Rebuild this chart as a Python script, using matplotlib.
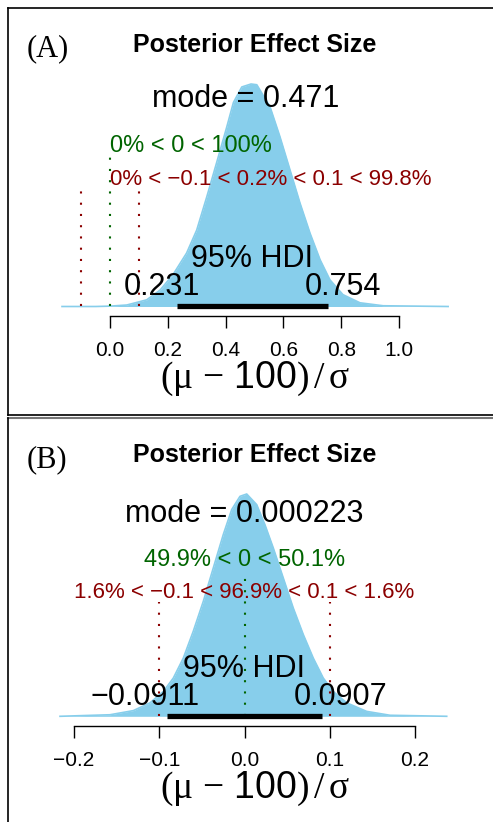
import matplotlib
matplotlib.use("Agg")
import matplotlib.pyplot as plt
from matplotlib.lines import Line2D
from matplotlib.transforms import offset_copy


# panel A: posterior of effect size
a_x = [-0.166, -0.05, 0.0, 0.058, 0.127, 0.173, 0.218, 0.265, 0.300, 0.335,
       0.369, 0.404, 0.427, 0.456, 0.488, 0.508, 0.554, 0.588, 0.623, 0.657,
       0.692, 0.727, 0.761, 0.806, 0.865, 0.945, 1.17]
a_dens = [0.0, 0.0, 0.005, 0.02, 0.09, 0.22, 0.43, 0.72, 1.03, 1.48,
          1.94, 2.42, 2.75, 2.96, 3.00, 2.99, 2.69, 2.29, 1.84, 1.40,
          0.99, 0.63, 0.36, 0.16, 0.05, 0.01, 0.0]
a_mode = 0.471
a_hdi = [0.231, 0.754]
a_comp_pct = [0, 100]
a_rope_pct = [0, 0.2, 99.8]
a_ticks = [0.0, 0.2, 0.4, 0.6, 0.8, 1.0]
a_ticklabels = ["0.0", "0.2", "0.4", "0.6", "0.8", "1.0"]

# panel B
b_x = [-0.2164, -0.1578, -0.1304, -0.1109, -0.0952, -0.0835, -0.0718, -0.0601,
       -0.0483, -0.0366, -0.0249, -0.0150, -0.0053, 0.0026, 0.0143, 0.0240,
       0.0338, 0.0455, 0.0572, 0.0690, 0.0807, 0.0924, 0.1042, 0.1199,
       0.1433, 0.1707, 0.2372]
b_dens = [0.0, 0.06, 0.22, 0.52, 0.96, 1.48, 2.25, 3.29,
          4.45, 5.74, 7.03, 8.00, 8.51, 8.60, 8.19, 7.41,
          6.51, 5.35, 4.19, 3.16, 2.25, 1.48, 0.96, 0.52,
          0.19, 0.04, 0.0]
b_mode = 0.000223
b_hdi = [-0.0911, 0.0907]
b_comp_pct = [49.9, 50.1]
b_rope_pct = [1.6, 96.9, 1.6]
b_ticks = [-0.2, -0.1, 0.0, 0.1, 0.2]
b_ticklabels = ["\u22120.2", "\u22120.1", "0.0", "0.1", "0.2"]

comp_val = 0
rope = [-0.1, 0.1]

W, H = 493, 822
plt.rcParams["font.family"] = "Liberation Sans"
plt.rcParams["mathtext.fontset"] = "custom"
plt.rcParams["mathtext.rm"] = "Liberation Serif"
plt.rcParams["mathtext.it"] = "Liberation Serif:italic"
plt.rcParams["mathtext.sf"] = "Liberation Sans"

fig = plt.figure(figsize=(W / 100, H / 100), dpi=100)

SKY = "#87CEEB"
GREEN = "#006400"
RED = "#8B0000"


def fmt(v):
    return ("%.3g" % v).replace("-", "\u2212")


def fig_text(px, py, s, **kw):
    fig.text(px / W, 1 - py / H, s, **kw)


def text_adj(ax, x, y, s, adj, **kw):
    # R style fractional horizontal adjustment
    t = ax.text(x, y, s, ha="left", va="baseline", **kw)
    w = t.get_window_extent(renderer=fig.canvas.get_renderer()).width
    t.set_transform(offset_copy(ax.transData, fig=fig, x=-adj * w, units="dots"))
    return t


def plot_panel(x, dens, mode, hdi, comp_pct, rope_pct, ticks, ticklabels,
               zero_px, px_unit, base_px, peak_px, hts, tag, top_px):
    left_px, right_px = 50, 460
    ax = fig.add_axes([left_px / W, 1 - base_px / H, (right_px - left_px) / W,
                       (base_px - top_px) / H])
    k = max(dens) / peak_px   # density units per pixel
    ax.set_xlim((left_px - zero_px) / px_unit, (right_px - zero_px) / px_unit)
    ax.set_ylim(0, (base_px - top_px) * k)

    ax.fill_between(x, 0, dens, color=SKY, lw=0)
    ax.plot(x, dens, color=SKY, lw=1.2, clip_on=False)

    ax.plot([comp_val, comp_val], [0, hts["comp_line"] * k], color=GREEN,
            lw=1.5, linestyle=(0, (1, 4.4)), clip_on=False)
    for r in rope:
        ax.plot([r, r], [0, hts["rope_line"] * k], color=RED,
                lw=1.5, linestyle=(0, (1, 4.4)), clip_on=False)
    ax.plot(hdi, [0, 0], color="black", lw=3.8, solid_capstyle="butt",
            clip_on=False)

    ax.text(mode, hts["mode"] * k, "mode = " + fmt(mode), ha="center",
            va="baseline", fontsize=22)
    text_adj(ax, comp_val, hts["comp"] * k,
             "%s%% < %s < %s%%" % (fmt(comp_pct[0]), fmt(comp_val), fmt(comp_pct[1])),
             comp_pct[0] / 100, fontsize=17, color=GREEN)
    text_adj(ax, sum(rope) / 2, hts["rope"] * k,
             "%s%% < %s < %s%% < %s < %s%%" % (fmt(rope_pct[0]), fmt(rope[0]),
                                              fmt(rope_pct[1]), fmt(rope[1]),
                                              fmt(rope_pct[2])),
             (rope_pct[0] + rope_pct[1] / 2) / 100, fontsize=16, color=RED)
    ax.text(sum(hdi) / 2, hts["hdi"] * k, "95% HDI", ha="center",
            va="baseline", fontsize=22)
    text_adj(ax, hdi[0], hts["hdi_val"] * k, fmt(hdi[0]), 0.7, fontsize=22)
    text_adj(ax, hdi[1], hts["hdi_val"] * k, fmt(hdi[1]), 0.3, fontsize=22)

    for side in ["left", "top", "right"]:
        ax.spines[side].set_visible(False)
    ax.spines["bottom"].set_position(("outward", 7.0))
    ax.spines["bottom"].set_bounds(ticks[0], ticks[-1])
    ax.spines["bottom"].set_linewidth(1.0)
    ax.set_yticks([])
    ax.set_xticks(ticks)
    ax.set_xticklabels(ticklabels)
    ax.tick_params(axis="x", length=8.6, width=1.0, pad=9.4, labelsize=15)
    ax.patch.set_visible(False)

    fig_text(27, tag[1], tag[0], family="Liberation Serif", fontsize=22,
             va="baseline", ha="left")
    fig_text(254.5, tag[2], "Posterior Effect Size", fontsize=18,
             fontweight="bold", ha="center", va="baseline")
    fig_text(255, tag[3],
             r"$(\mathrm{\mu}\, - \,\mathsf{100})\,/\,\mathrm{\sigma}$",
             fontsize=27, ha="center", va="baseline")
    return ax


plot_panel(a_x, a_dens, a_mode, a_hdi, a_comp_pct, a_rope_pct, a_ticks,
           a_ticklabels, 110, 289, 306.5, 222.5,
           {"mode": 199.5, "comp": 154.5, "rope": 121.5, "hdi": 39.5,
            "hdi_val": 11.5, "comp_line": 149.5, "rope_line": 118.5},
           ("(A)", 56, 52, 388), 30)
plot_panel(b_x, b_dens, b_mode, b_hdi, b_comp_pct, b_rope_pct, b_ticks,
           b_ticklabels, 244.5, 852.5, 716.3, 222.3,
           {"mode": 194, "comp": 150.3, "rope": 118, "hdi": 39.6,
            "hdi_val": 11.3, "comp_line": 144.3, "rope_line": 114.3},
           ("(B)", 467, 461.7, 798), 440)

# panel frames
def fline(xs, ys, **kw):
    fig.add_artist(Line2D([v / W for v in xs], [1 - v / H for v in ys], **kw))

fline([8.3, 8.3], [8, 415], color="black", lw=1.2)
fline([8, 500], [8, 8], color="black", lw=1.2)
fline([8, 500], [415, 415], color="black", lw=1.2)
fline([8, 500], [418.5, 418.5], color="#777777", lw=1.5)
fline([8.3, 8.3], [418, 830], color="black", lw=1.2)

fig.savefig("out.png", dpi=100)
